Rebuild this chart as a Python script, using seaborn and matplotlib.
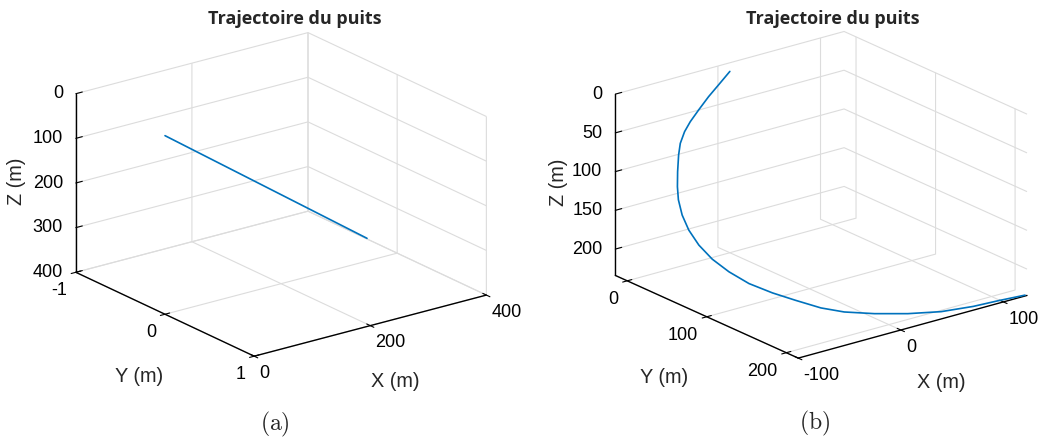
import numpy as np
import matplotlib
matplotlib.use("Agg")
import matplotlib.pyplot as plt
import seaborn as sns

sns.set_theme(style="white")
plt.rcParams['font.family'] = ['Liberation Sans', 'DejaVu Sans']
plt.rcParams['mathtext.fontset'] = 'cm'
plt.rcParams['axes.unicode_minus'] = False

# ---- data (a): straight well path ----
xa = [0, 348]
ya = [0, 0]
za = [0, 349]

# ---- data (b): curved well path ----
xb = [0, -12.5, -21.8, -31.1, -38.4, -42.8, -47.6, -49.7, -54.0, -56.6, -57.9, -59.5,
      -61.1, -61.6, -59.9, -56.3, -50.6, -41.6, -32.3, -23.0, -12.2, 5.4, 26.2, 48.6,
      74.1, 97.0, 122.2]
yb = [0, 1.9, 1.4, 0.9, -0.2, -1.7, -0.9, -0.3, 4.0, 7.1, 10.0, 16.8, 27.2, 40.5,
      55.2, 71.5, 89.4, 107.3, 124.6, 144.2, 159.6, 174.8, 190.0, 203.0, 210.5, 212.5,
      213.5]
zb = [0, 12, 24, 38, 51, 63, 76, 90, 108, 125, 140, 156, 170, 183, 195, 205, 214,
      221, 226, 230, 232, 233.5, 234, 233.5, 232.5, 232.5, 234]

xticks_a = [0, 200, 400]
yticks_a = [-1, 0, 1]
zticks_a = [0, 100, 200, 300, 400]
xticks_b = [-100, 0, 100]
yticks_b = [0, 100, 200]
zticks_b = [0, 50, 100, 150, 200]

title = "Trajectoire du puits"
labels = ("X (m)", "Y (m)", "Z (m)")
line_color = "#0072BD"
grid_color = "#DCDCDC"

W, H = 1040, 439
fig = plt.figure(figsize=(W / 100, H / 100), dpi=100)


def fx(px):
    return px / W


def fy(py):
    return 1 - py / H


def style_axes(ax, azim):
    ax.set_proj_type('ortho')
    ax.view_init(elev=20.6, azim=azim)
    ax.grid(True)
    for axis in (ax.xaxis, ax.yaxis, ax.zaxis):
        axis.set_pane_color((1, 1, 1, 0))
        axis.pane.set_edgecolor((1, 1, 1, 0))
        axis.line.set_color('black')
        axis.line.set_linewidth(1.0)
        axis._axinfo['grid'].update(color=grid_color, linewidth=0.8)
        axis._axinfo['tick'].update(inward_factor=0.25, outward_factor=0.25)
        axis._axinfo['tick']['linewidth'] = {True: 0.8, False: 0.5}
    ax.zaxis._axinfo['tick'].update(inward_factor=0.0, outward_factor=0.35)
    ax.tick_params(axis='x', colors='black', labelsize=13, pad=-4.5)
    ax.tick_params(axis='y', colors='black', labelsize=13, pad=-3.5)
    ax.tick_params(axis='z', colors='black', labelsize=13, pad=-4.2)
    plt.setp(ax.xaxis.get_majorticklabels(), ha='left', va='top')
    plt.setp(ax.yaxis.get_majorticklabels(), ha='right', va='top')
    plt.setp(ax.zaxis.get_majorticklabels(), ha='right', va='center')


def make(rect, x, y, z, xl, yl, zl, xt, yt, zt, azim, zasp, cap, tpos, cpos, lpos):
    ax = fig.add_axes(rect, projection='3d')
    ax.plot(x, y, z, color=line_color, linewidth=1.2, zorder=10, clip_on=False)
    ax.set_xlim(*xl)
    ax.set_ylim(*yl)
    ax.set_zlim(*zl)
    ax.set_xticks(xt)
    ax.set_yticks(yt)
    ax.set_zticks(zt)
    aspect = np.array([1, 1.027, zasp])
    zoom = 1.387 * np.linalg.norm(aspect) / np.linalg.norm([1, 1.027, 0.678])
    ax.set_box_aspect(aspect, zoom=zoom)
    style_axes(ax, azim)
    # axis titles placed as in the reference (MATLAB keeps them upright)
    (xx, xy), (yx, yy), (zx, zy) = lpos
    fig.text(fx(xx), fy(xy), labels[0], ha='center', va='center', fontsize=14.3)
    fig.text(fx(yx), fy(yy), labels[1], ha='center', va='center', fontsize=14.3)
    fig.text(fx(zx), fy(zy), labels[2], ha='center', va='center', fontsize=14.3,
             rotation=90)
    fig.text(fx(tpos[0]), fy(tpos[1]), title, ha='center', va='center',
             fontsize=13, fontweight='bold', family=['Open Sans', 'DejaVu Sans'])
    fig.text(fx(cpos[0]), fy(cpos[1]), cap, ha='center', va='center', fontsize=17)
    return ax


axa = make([0.0691, 0.1785, 0.394, 0.733], xa, ya, za, (0, 400), (1, -1), (400, 0),
           xticks_a, yticks_a, zticks_a, -126.8, 0.658, r'$\mathrm{(a)}$',
           (294.5, 19), (275, 424), ((395, 382), (139, 377), (16.5, 181)))
axb = make([0.5884, 0.1776, 0.394, 0.733], xb, yb, zb, (-100, 123), (215, -15), (234, 0),
           xticks_b, yticks_b, zticks_b, -127.9, 0.668, r'$\mathrm{(b)}$',
           (832.5, 19), (815, 423), ((941, 382.5), (664, 377.5), (559, 182.5)))

fig.savefig("out.png", dpi=100)
